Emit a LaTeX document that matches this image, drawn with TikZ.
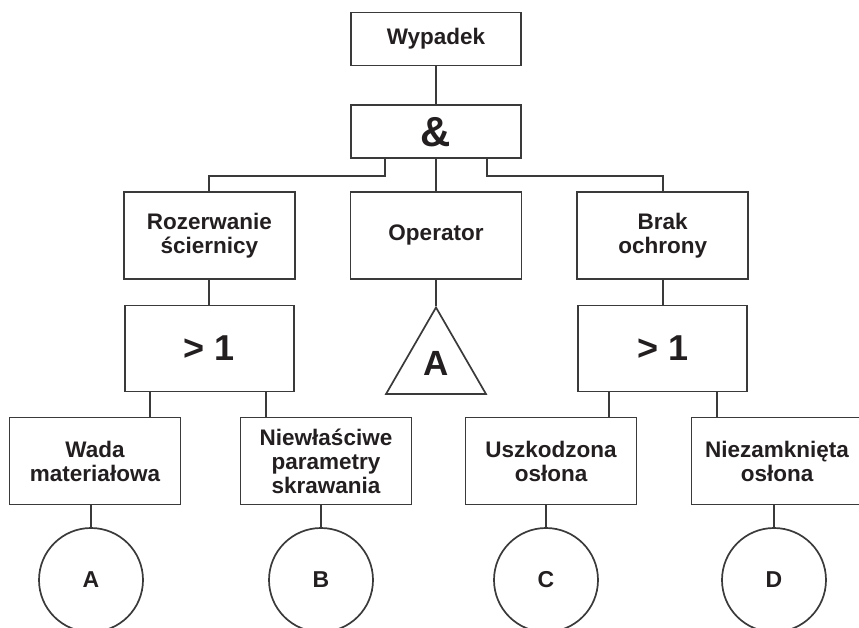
\documentclass[tikz,border=0pt]{standalone}
\usepackage{fontspec}
\setmainfont{Liberation Sans}
\usetikzlibrary{positioning,shapes.geometric}
\definecolor{ink}{HTML}{231F20}
\definecolor{wire}{HTML}{3A3A3A}

\begin{document}
\begin{tikzpicture}[x=1pt,y=-1pt,every node/.style={font=\fontsize{22.5}{24}\selectfont\bfseries,align=center,text=ink},event/.style={draw=wire,line width=1.7pt,minimum width=171pt,minimum height=87pt,inner sep=0pt},gate/.style={draw=wire,line width=1.7pt,minimum width=170pt,minimum height=53pt,inner sep=0pt},orgate/.style={event,minimum width=169pt,minimum height=86pt,font=\fontsize{36}{40}\selectfont\bfseries},basic/.style={circle,draw=wire,line width=1.7pt,minimum size=104pt,inner sep=0pt,font=\fontsize{23}{26}\selectfont\bfseries},transfer/.style={regular polygon,regular polygon sides=3,draw=wire,line width=1.7pt,minimum size=115.5pt,inner sep=0pt,font=\fontsize{35}{40}\selectfont\bfseries},link/.style={draw=wire,line width=1.7pt}]
\clip (0,0) rectangle (859,628);
\node[gate] (top) at (436,39) {Wypadek};
\node[gate,below=38pt of top,font=\fontsize{42}{46}\selectfont\bfseries] (and) {\&};
\node[event,below=32pt of and] (op) {Operator};
\node[event,left=54pt of op] (roz) {Rozerwanie\\ściernicy};
\node[event,right=54pt of op] (brak) {Brak\\ochrony};
\node[orgate,below=25pt of roz] (orL) {> 1};
\node[orgate,below=25pt of brak] (orR) {> 1};
\node[transfer,below=26pt of op] (tri) {\raisebox{3pt}{A}};
\node[event] (wada) at (95,461) {Wada\\materiałowa};
\node[event] (niew) at (326,461) {Niewłaściwe\\parametry\\skrawania};
\node[event] (uszk) at (551,461) {Uszkodzona\\osłona};
\node[event] (niez) at (777,461) {Niezamknięta\\osłona};
\node[basic] (evA) at (91,580) {A};
\node[basic] (evB) at (321,580) {B};
\node[basic] (evC) at (546,580) {C};
\node[basic] (evD) at (774,580) {D};
\draw[link] (top) -- (and);
\draw[link] (and) -- (op);
\draw[link] ([xshift=-51pt]and.south) -- ++(0,17) -| (roz.north);
\draw[link] ([xshift=51pt]and.south) -- ++(0,17) -| (brak.north);
\draw[link] (roz) -- (orL);
\draw[link] (brak) -- (orR);
\draw[link] (op.south) -- (tri.north);
\draw[link] ([xshift=-59pt]orL.south) -- ([xshift=-59pt]orL.south |- wada.north);
\draw[link] ([xshift=57pt]orL.south) -- ([xshift=57pt]orL.south |- niew.north);
\draw[link] ([xshift=-54pt]orR.south) -- ([xshift=-54pt]orR.south |- uszk.north);
\draw[link] ([xshift=54pt]orR.south) -- ([xshift=54pt]orR.south |- niez.north);
\draw[link] (evA.north) -- (evA.north |- wada.south);
\draw[link] (evB.north) -- (evB.north |- niew.south);
\draw[link] (evC.north) -- (evC.north |- uszk.south);
\draw[link] (evD.north) -- (evD.north |- niez.south);
\end{tikzpicture}
\end{document}
